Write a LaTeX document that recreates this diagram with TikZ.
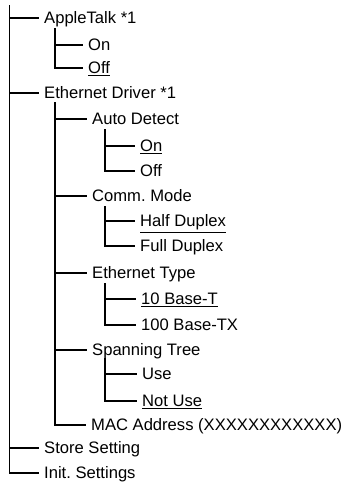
\documentclass[tikz,border=0pt]{standalone}
\usepackage{fontspec}
\setmainfont{Liberation Sans}
\usetikzlibrary{positioning}

\tikzset{
  item/.style={anchor=west,inner xsep=5pt,inner ysep=0pt,text height=11.8pt,text depth=0pt,font=\fontsize{16.6}{18}\selectfont},
  branch/.style={line width=1.4pt},
}
\newcommand{\sel}[1]{\underline{#1}}

\begin{document}
\begin{tikzpicture}[x=1pt,y=-1pt]
\useasboundingbox (0,0) rectangle (344,482);
% top level
\node[item] (apple) at (39,18) {AppleTalk *1};
\node[item] (appon) at (83,45) {On};
\node[item] (appoff) at (83,68) {\sel{Off}};
\node[item] (ethdrv) at (39,93) {Ethernet Driver *1};
\node[item] (auto) at (87,119) {Auto Detect};
\node[item] (autoon) at (135,146) {\sel{On}};
\node[item] (autooff) at (135,171) {Off};
\node[item] (comm) at (87,196) {Comm.\ Mode};
\node[item] (half) at (135,221) {\sel{Half Duplex}};
\node[item] (full) at (135,246) {Full Duplex};
\node[item] (ethtype) at (87,273) {Ethernet Type};
\node[item] (tbt) at (136,299) {\sel{10 Base-T}};
\node[item] (hbtx) at (136,325) {100 Base-TX};
\node[item] (span) at (87,350) {Spanning Tree};
\node[item] (use) at (137,374) {Use};
\node[item] (notuse) at (137,401) {\sel{Not Use}};
\node[item] (mac) at (86,425) {MAC Address (XXXXXXXXXXXX)};
\node[item] (store) at (39,448) {Store Setting};
\node[item] (init) at (39,473) {Init.\ Settings};

\coordinate (root) at (9.5,5);
\coordinate (applebr) at (55,28);
\coordinate (ethbr) at (55,102);
\coordinate (autobr) at (105,129);
\coordinate (commbr) at (105,206);
\coordinate (typebr) at (105,283);
\coordinate (spanbr) at (105,358);

% connectors
\foreach \n in {apple,ethdrv,store,init}
  \draw[branch] (root) |- (\n.west);
\foreach \n in {appon,appoff}
  \draw[branch] (applebr) |- (\n.west);
\foreach \n in {auto,comm,ethtype,span,mac}
  \draw[branch] (ethbr) |- (\n.west);
\foreach \n in {autoon,autooff}
  \draw[branch] (autobr) |- (\n.west);
\foreach \n in {half,full}
  \draw[branch] (commbr) |- (\n.west);
\foreach \n in {tbt,hbtx}
  \draw[branch] (typebr) |- (\n.west);
\foreach \n in {use,notuse}
  \draw[branch] (spanbr) |- (\n.west);
\end{tikzpicture}
\end{document}
